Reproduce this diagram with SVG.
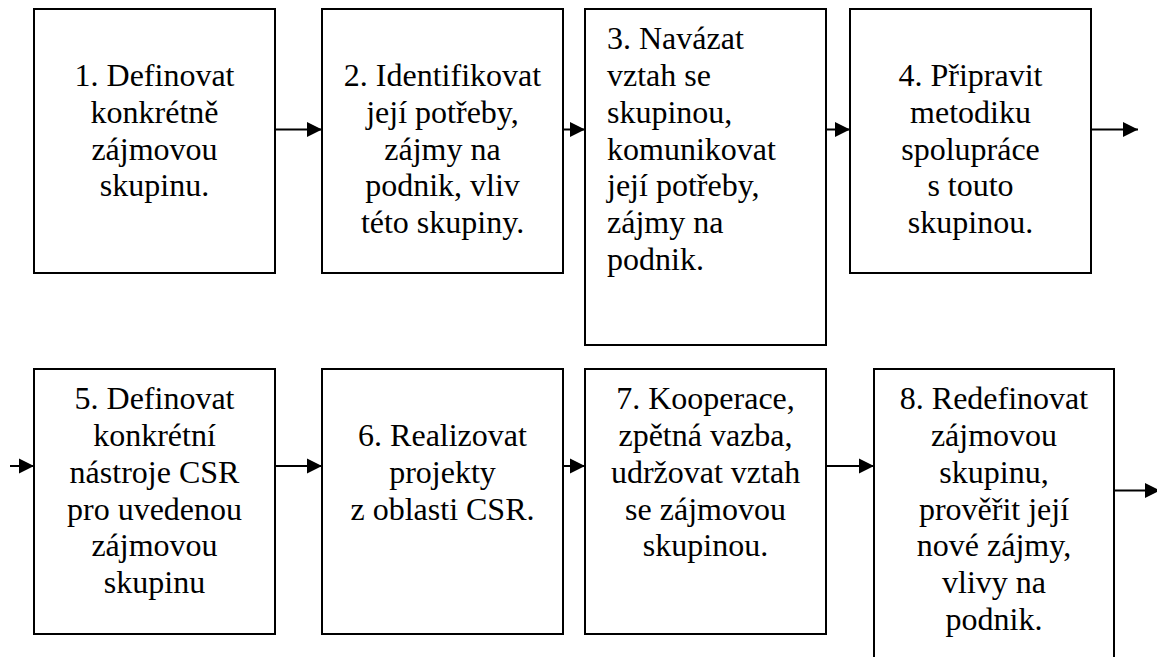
<svg xmlns="http://www.w3.org/2000/svg" width="1157" height="657" viewBox="0 0 1157 657">
  <style>
    .box { fill: #ffffff; stroke: #000000; stroke-width: 2; }
    .c { text-anchor: middle; font-size: 32px; fill: #000000; }
    .l { text-anchor: start; font-size: 32px; fill: #000000; }
    .conn { stroke: #000000; stroke-width: 2; fill: none; marker-end: url(#arrow); }
  </style>
  <defs>
    <marker id="arrow" markerUnits="userSpaceOnUse" markerWidth="16" markerHeight="16" viewBox="0 0 16 16" refX="15" refY="8" orient="auto">
      <path d="M0,0.5 L15,8 L0,15.5 Z" fill="#000000"/>
    </marker>
  </defs>

  <rect width="1157" height="657" fill="#ffffff"/>

  <!-- connectors -->
  <g id="connectors">
    <line class="conn" x1="275" y1="129.5" x2="322" y2="129.5"/>
    <line class="conn" x1="563" y1="129.5" x2="585" y2="129.5"/>
    <line class="conn" x1="826" y1="129.5" x2="850" y2="129.5"/>
    <line class="conn" x1="1091" y1="129.5" x2="1138" y2="129.5"/>
    <line class="conn" x1="10" y1="466" x2="34" y2="466"/>
    <line class="conn" x1="275" y1="466" x2="322" y2="466"/>
    <line class="conn" x1="563" y1="466" x2="585" y2="466"/>
    <line class="conn" x1="826" y1="466" x2="874" y2="466"/>
    <line class="conn" x1="1114" y1="490.5" x2="1160" y2="490.5"/>
  </g>

  <g id="step1">
    <rect class="box" x="34" y="9" width="241" height="264"/>
    <text class="c" font-family="Liberation Serif" x="154.5" y="86">1. Definovat</text>
    <text class="c" font-family="Liberation Serif" x="154.5" y="122.8">konkrétně</text>
    <text class="c" font-family="Liberation Serif" x="154.5" y="159.6">zájmovou</text>
    <text class="c" font-family="Liberation Serif" x="154.5" y="196.4">skupinu.</text>
  </g>

  <g id="step2">
    <rect class="box" x="322" y="9" width="241" height="264"/>
    <text class="c" font-family="Liberation Serif" x="442.5" y="86">2. Identifikovat</text>
    <text class="c" font-family="Liberation Serif" x="442.5" y="122.8">její potřeby,</text>
    <text class="c" font-family="Liberation Serif" x="442.5" y="159.6">zájmy na</text>
    <text class="c" font-family="Liberation Serif" x="442.5" y="196.4">podnik, vliv</text>
    <text class="c" font-family="Liberation Serif" x="442.5" y="233.2">této skupiny.</text>
  </g>

  <g id="step3">
    <rect class="box" x="585" y="9" width="241" height="336"/>
    <text class="l" font-family="Liberation Serif" x="607" y="49.2">3. Navázat</text>
    <text class="l" font-family="Liberation Serif" x="607" y="86">vztah se</text>
    <text class="l" font-family="Liberation Serif" x="607" y="122.8">skupinou,</text>
    <text class="l" font-family="Liberation Serif" x="607" y="159.6">komunikovat</text>
    <text class="l" font-family="Liberation Serif" x="607" y="196.4">její potřeby,</text>
    <text class="l" font-family="Liberation Serif" x="607" y="233.2">zájmy na</text>
    <text class="l" font-family="Liberation Serif" x="607" y="270">podnik.</text>
  </g>

  <g id="step4">
    <rect class="box" x="850" y="9" width="241" height="264"/>
    <text class="c" font-family="Liberation Serif" x="970.5" y="86">4. Připravit</text>
    <text class="c" font-family="Liberation Serif" x="970.5" y="122.8">metodiku</text>
    <text class="c" font-family="Liberation Serif" x="970.5" y="159.6">spolupráce</text>
    <text class="c" font-family="Liberation Serif" x="970.5" y="196.4">s touto</text>
    <text class="c" font-family="Liberation Serif" x="970.5" y="233.2">skupinou.</text>
  </g>

  <g id="step5">
    <rect class="box" x="34" y="369" width="241" height="265"/>
    <text class="c" font-family="Liberation Serif" x="154.5" y="409.2">5. Definovat</text>
    <text class="c" font-family="Liberation Serif" x="154.5" y="446">konkrétní</text>
    <text class="c" font-family="Liberation Serif" x="154.5" y="482.8">nástroje CSR</text>
    <text class="c" font-family="Liberation Serif" x="154.5" y="519.6">pro uvedenou</text>
    <text class="c" font-family="Liberation Serif" x="154.5" y="556.4">zájmovou</text>
    <text class="c" font-family="Liberation Serif" x="154.5" y="593.2">skupinu</text>
  </g>

  <g id="step6">
    <rect class="box" x="322" y="369" width="241" height="265"/>
    <text class="c" font-family="Liberation Serif" x="442.5" y="446">6. Realizovat</text>
    <text class="c" font-family="Liberation Serif" x="442.5" y="482.8">projekty</text>
    <text class="c" font-family="Liberation Serif" x="442.5" y="519.6">z oblasti CSR.</text>
  </g>

  <g id="step7">
    <rect class="box" x="585" y="369" width="241" height="265"/>
    <text class="c" font-family="Liberation Serif" x="705.5" y="409.2">7. Kooperace,</text>
    <text class="c" font-family="Liberation Serif" x="705.5" y="446">zpětná vazba,</text>
    <text class="c" font-family="Liberation Serif" x="705.5" y="482.8">udržovat vztah</text>
    <text class="c" font-family="Liberation Serif" x="705.5" y="519.6">se zájmovou</text>
    <text class="c" font-family="Liberation Serif" x="705.5" y="556.4">skupinou.</text>
  </g>

  <g id="step8">
    <rect class="box" x="874" y="369" width="240" height="320"/>
    <text class="c" font-family="Liberation Serif" x="994" y="409.2">8. Redefinovat</text>
    <text class="c" font-family="Liberation Serif" x="994" y="446">zájmovou</text>
    <text class="c" font-family="Liberation Serif" x="994" y="482.8">skupinu,</text>
    <text class="c" font-family="Liberation Serif" x="994" y="519.6">prověřit její</text>
    <text class="c" font-family="Liberation Serif" x="994" y="556.4">nové zájmy,</text>
    <text class="c" font-family="Liberation Serif" x="994" y="593.2">vlivy na</text>
    <text class="c" font-family="Liberation Serif" x="994" y="630">podnik.</text>
  </g>
</svg>
